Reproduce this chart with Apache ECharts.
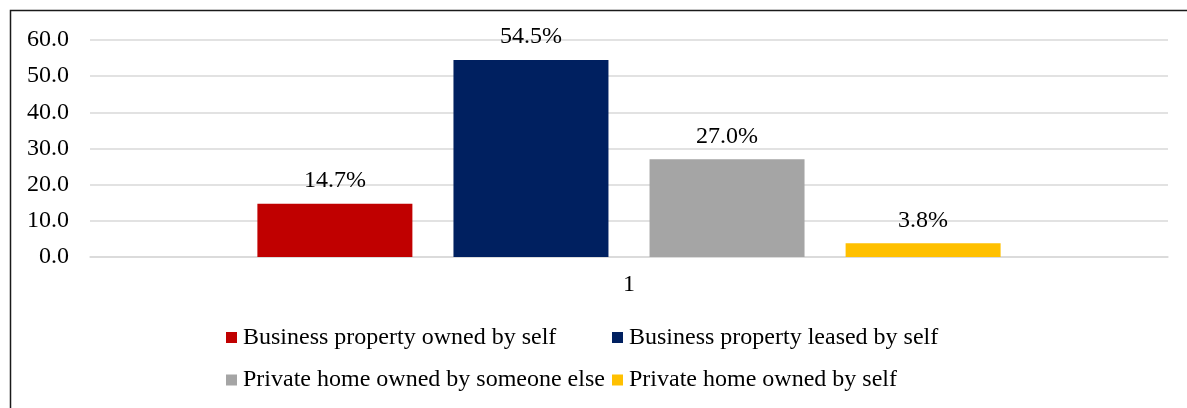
<!DOCTYPE html>
<html>
<head>
<meta charset="utf-8">
<script src="https://cdn.jsdelivr.net/npm/echarts@6/dist/echarts.min.js"></script>
<style>
html,body{margin:0;padding:0;background:#fff;}
#chart{width:1187px;height:408px;}
</style>
</head>
<body>
<div id="chart"></div>
<script>
const categories = ['1'];
const seriesNames = [
  'Business property owned by self',
  'Business property leased by self',
  'Private home owned by someone else',
  'Private home owned by self'
];
const seriesValues = [14.7, 54.5, 27.0, 3.8];
const seriesColors = ['#C00000', '#002060', '#A5A5A5', '#FFC000'];
const yTicks = { min: 0, max: 60, interval: 10 };

const FONT = "'Liberation Serif', 'Times New Roman', serif";
const chart = echarts.init(document.getElementById('chart'), null, { renderer: 'canvas' });

const legendPos = [
  { left: 226, top: 325.5 },
  { left: 612, top: 325.5 },
  { left: 226, top: 368 },
  { left: 612, top: 368 }
];

const option = {
  animation: false,
  backgroundColor: '#fff',
  textStyle: { fontFamily: FONT },
  graphic: [{
    type: 'rect',
    shape: { x: 10.5, y: 10.5, width: 1300, height: 600 },
    style: { fill: 'none', stroke: '#1a1a1a', lineWidth: 1.5 },
    silent: true,
    z: 100
  }],
  grid: { left: 90, right: 19, top: 40, bottom: 151, containLabel: false },
  legend: seriesNames.map((n, i) => ({
    data: [n],
    left: legendPos[i].left,
    top: legendPos[i].top,
    padding: 0,
    itemWidth: 11,
    itemHeight: 11,
    icon: 'rect',
    itemGap: 0,
    selectedMode: false,
    textStyle: { fontFamily: FONT, fontSize: 24, color: '#000', lineHeight: 24, padding: [0, 0, 0, 1] }
  })),
  xAxis: {
    type: 'category',
    data: categories,
    axisLine: { show: true, lineStyle: { color: '#D9D9D9', width: 1.5 } },
    axisTick: { show: false },
    axisLabel: { fontFamily: FONT, fontSize: 24, color: '#000', margin: 16, lineHeight: 24 }
  },
  yAxis: {
    type: 'value',
    min: yTicks.min,
    max: yTicks.max,
    interval: yTicks.interval,
    axisLine: { show: false },
    axisTick: { show: false },
    splitLine: { lineStyle: { color: '#D9D9D9', width: 1.5 } },
    axisLabel: {
      fontFamily: FONT, fontSize: 24, color: '#000', margin: 21,
      formatter: v => v.toFixed(1)
    }
  },
  series: seriesNames.map((n, i) => ({
    name: n,
    type: 'bar',
    data: [seriesValues[i]],
    barWidth: 155,
    barGap: '26.5%',
    itemStyle: { color: seriesColors[i] },
    label: {
      show: true,
      position: 'top',
      distance: 11,
      fontFamily: FONT,
      fontSize: 24,
      color: '#000',
      formatter: p => p.value.toFixed(1) + '%'
    }
  }))
};
chart.setOption(option);
</script>
</body>
</html>
